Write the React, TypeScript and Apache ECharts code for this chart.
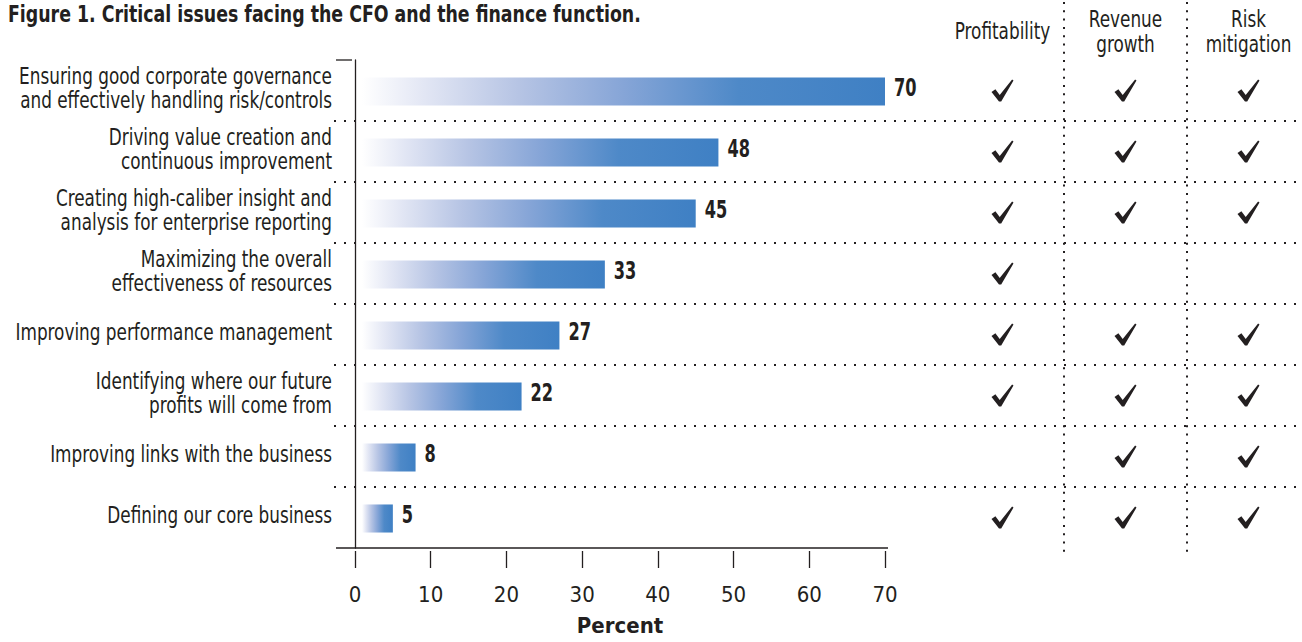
import React, { useEffect, useRef } from "react";
import * as echarts from "echarts";

// Issues, top to bottom, with the share of respondents naming each one.
const issues = [
  "Ensuring good corporate governance\nand effectively handling risk/controls",
  "Driving value creation and\ncontinuous improvement",
  "Creating high-caliber insight and\nanalysis for enterprise reporting",
  "Maximizing the overall\neffectiveness of resources",
  "Improving performance management",
  "Identifying where our future\nprofits will come from",
  "Improving links with the business",
  "Defining our core business",
];
const percents = [70, 48, 45, 33, 27, 22, 8, 5];

// Percent axis ticks.
const percentMin = 0;
const percentMax = 70;
const percentStep = 10;

// Impact columns and which issues carry a check in each.
const impactColumns = ["Profitability", "Revenue\ngrowth", "Risk\nmitigation"];
const profitability = [1, 1, 1, 1, 1, 1, 0, 1];
const revenueGrowth = [1, 1, 1, 0, 1, 1, 1, 1];
const riskMitigation = [1, 1, 1, 0, 1, 1, 1, 1];

const TITLE = "Figure 1. Critical issues facing the CFO and the finance function.";
const FONT = '"DejaVu Sans Condensed", "Liberation Sans", sans-serif';
const INK = "#231f20";
// Horizontal squeeze that gives the condensed look of the typeface.
const NARROW = 0.815;

const CHECK_PATH =
  "path://M0,12.5 L3.9,9.8 L8.2,15.4 L20.6,0 L22,1.1 L9.7,22 L7.5,22 Z";

export default function App() {
  const ref = useRef<HTMLDivElement>(null);

  useEffect(() => {
    if (!ref.current) return;
    const chart = echarts.init(ref.current, null, { renderer: "svg" });

    const checkData: number[][] = [];
    [profitability, revenueGrowth, riskMitigation].forEach((col, c) => {
      col.forEach((flag, r) => {
        if (flag) checkData.push([c, r]);
      });
    });

    const barGradient = new echarts.graphic.LinearGradient(0, 0, 1, 0, [
      { offset: 0, color: "#ffffff" },
      { offset: 0.12, color: "#e2e6f4" },
      { offset: 0.3, color: "#b6c4e4" },
      { offset: 0.5, color: "#86a5d7" },
      { offset: 0.72, color: "#4e89c8" },
      { offset: 1, color: "#3f80c4" },
    ]);

    chart.setOption({
      animation: false,
      backgroundColor: "#ffffff",
      textStyle: { fontFamily: FONT, color: INK },
      grid: [
        { left: 355, top: 60, width: 530, height: 488, outerBoundsMode: "none", containLabel: false },
        { left: 941, top: 60, width: 369, height: 488, outerBoundsMode: "none", containLabel: false },
      ],
      xAxis: [
        {
          type: "value",
          gridIndex: 0,
          min: percentMin,
          max: percentMax,
          interval: percentStep,
          offset: 3,
          axisLine: { show: false },
          axisTick: { show: true, length: 17, lineStyle: { color: INK, width: 1.3 } },
          axisLabel: { margin: 32, fontSize: 22, color: INK, fontFamily: FONT },
          splitLine: { show: false },
          name: "Percent",
          nameLocation: "middle",
          nameGap: 63,
          nameTextStyle: { fontSize: 22, fontWeight: "bold", color: INK, fontFamily: FONT },
        },
        {
          type: "category",
          gridIndex: 1,
          position: "top",
          data: impactColumns,
          axisLine: { show: false },
          axisTick: { show: false },
          axisLabel: { show: false },
          splitLine: { show: false },
        },
      ],
      yAxis: [
        {
          type: "category",
          gridIndex: 0,
          inverse: true,
          data: issues,
          axisLine: { show: true, lineStyle: { color: INK, width: 1.3 } },
          axisTick: { show: false },
          axisLabel: { show: false },
        },
        {
          type: "category",
          gridIndex: 1,
          inverse: true,
          data: issues,
          show: false,
        },
      ],
      series: [
        {
          type: "custom",
          xAxisIndex: 0,
          yAxisIndex: 0,
          data: percents.map((v, i) => [v, i]),
          encode: { x: 0, y: 1 },
          renderItem: (params: any, api: any) => {
            const v = api.value(0);
            const row = api.value(1);
            const start = api.coord([0, row]);
            const end = api.coord([v, row]);
            const h = api.size([0, 1])[1] * 0.46;
            const x0 = start[0] + 7;
            return {
              type: "group",
              children: [
                {
                  type: "rect",
                  shape: { x: x0, y: end[1] - h / 2 + 1, width: end[0] - x0, height: h },
                  style: { fill: barGradient },
                },
                {
                  type: "text",
                  x: end[0] + 9,
                  y: end[1] - 3,
                  scaleX: 0.72,
                  style: {
                    text: String(v),
                    x: 0,
                    y: 0,
                    align: "left",
                    verticalAlign: "middle",
                    fill: INK,
                    fontSize: 25,
                    fontWeight: "bold",
                    fontFamily: FONT,
                  },
                },
                {
                  type: "text",
                  x: start[0] - 23,
                  y: start[1] - 2.5,
                  scaleX: NARROW,
                  style: {
                    text: issues[row],
                    x: 0,
                    y: 0,
                    align: "right",
                    verticalAlign: "middle",
                    lineHeight: 24,
                    fill: INK,
                    fontSize: 23,
                    fontFamily: FONT,
                  },
                },
              ],
            };
          },
        },
        {
          type: "scatter",
          xAxisIndex: 1,
          yAxisIndex: 1,
          data: checkData,
          symbol: CHECK_PATH,
          symbolSize: [22, 22],
          symbolKeepAspect: true,
          itemStyle: { color: INK, opacity: 1 },
          silent: true,
        },
      ],
    });

    // Rules of the table: row separators, column separators and the axis line.
    const c0 = chart.convertToPixel({ yAxisIndex: 0 }, 0) as number;
    const c1 = chart.convertToPixel({ yAxisIndex: 0 }, 1) as number;
    const band = c1 - c0;
    const bounds = issues.map((_, i) => c0 - band / 2 + i * band);
    bounds.push(c0 - band / 2 + issues.length * band);
    const x0 = chart.convertToPixel({ xAxisIndex: 0 }, percentMin) as number;
    const xEnd = chart.convertToPixel({ xAxisIndex: 0 }, percentMax) as number;
    const colX = impactColumns.map((_, i) => chart.convertToPixel({ xAxisIndex: 1 }, i) as number);
    const bottom = bounds[bounds.length - 1];

    const dotted = { stroke: INK, lineWidth: 2, lineDash: [2, 8] };
    const solid = { stroke: INK, lineWidth: 1.3 };
    const graphic: any[] = [];

    graphic.push({
      type: "text",
      x: 8,
      y: 2,
      scaleX: 0.84,
      silent: true,
      style: {
        text: TITLE,
        x: 0,
        y: 0,
        align: "left",
        verticalAlign: "top",
        fill: INK,
        fontSize: 23,
        fontWeight: "bold",
        fontFamily: FONT,
      },
    });

    impactColumns.forEach((label, i) => {
      graphic.push({
        type: "text",
        x: colX[i],
        y: 31.5,
        scaleX: NARROW,
        silent: true,
        style: {
          text: label,
          x: 0,
          y: 0,
          align: "center",
          verticalAlign: "middle",
          lineHeight: 25,
          fill: INK,
          fontSize: 23,
          fontFamily: FONT,
        },
      });
    });

    for (let k = 1; k < issues.length; k++) {
      graphic.push({
        type: "line",
        silent: true,
        shape: { x1: x0 - 21, y1: bounds[k], x2: 1302, y2: bounds[k] },
        style: dotted,
      });
    }
    for (let k = 1; k < colX.length; k++) {
      const x = Math.round((colX[k - 1] + colX[k]) / 2);
      graphic.push({
        type: "line",
        silent: true,
        shape: { x1: x, y1: 2, x2: x, y2: bottom + 7 },
        style: { stroke: INK, lineWidth: 2, lineDash: [2, 6.3] },
      });
    }
    graphic.push({
      type: "line",
      silent: true,
      shape: { x1: x0 - 19, y1: bounds[0], x2: x0 - 3, y2: bounds[0] },
      style: solid,
    });
    graphic.push({
      type: "line",
      silent: true,
      shape: { x1: x0 - 19, y1: bottom, x2: xEnd + 3, y2: bottom },
      style: solid,
    });
    chart.setOption({ graphic });

    return () => chart.dispose();
  }, []);

  return (
    <div
      ref={ref}
      style={{ position: "fixed", left: 0, top: 0, width: 1302, height: 642, background: "#fff" }}
    />
  );
}
